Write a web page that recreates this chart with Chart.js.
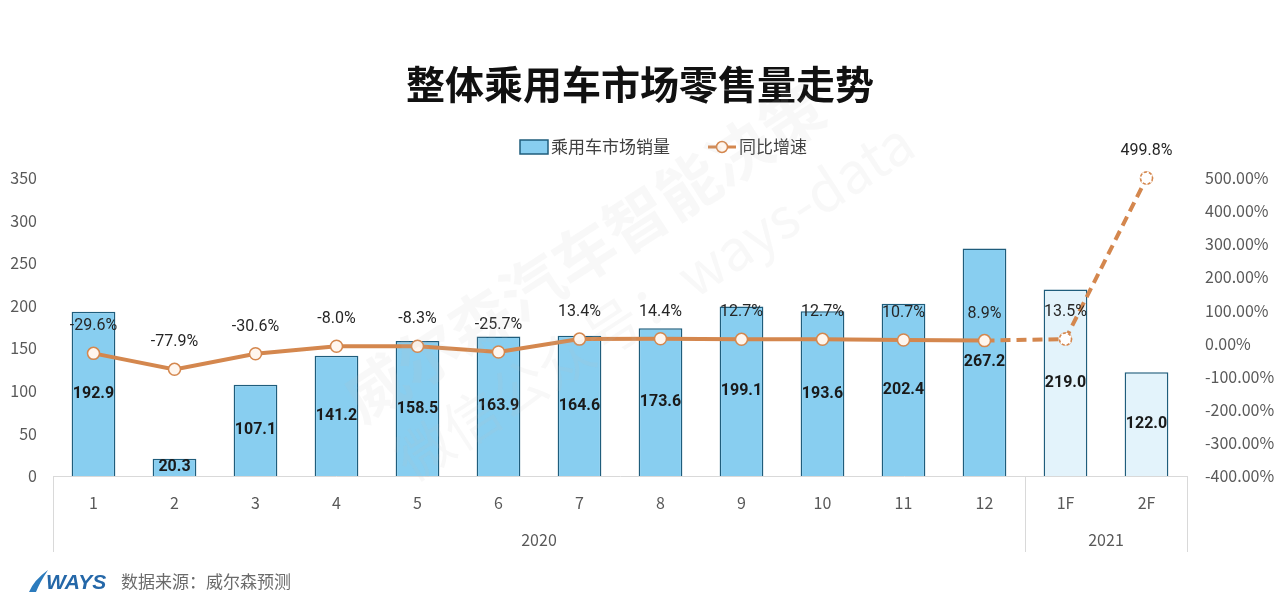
<!DOCTYPE html>
<html>
<head>
<meta charset="utf-8">
<script src="https://cdn.jsdelivr.net/npm/chart.js@4"></script>
<style>
  html, body { margin: 0; padding: 0; background: #fff; }
  #wrap { width: 1280px; height: 608px; position: relative; }
</style>
</head>
<body>
<div id="wrap"><canvas id="myChart" width="1280" height="608"></canvas></div>
<script>
// categories and values
const months = ['1', '2', '3', '4', '5', '6', '7', '8', '9', '10', '11', '12', '1F', '2F'];
const years = ['2020', '2021'];
const monthsPerYear = [12, 2];
const sales = [192.9, 20.3, 107.1, 141.2, 158.5, 163.9, 164.6, 173.6, 199.1, 193.6, 202.4, 267.2, 219.0, 122.0];
const growth = [-29.6, -77.9, -30.6, -8.0, -8.3, -25.7, 13.4, 14.4, 12.7, 12.7, 10.7, 8.9, 13.5, 499.8];
const forecastFrom = 12; // index of first forecast month (1F)

const ORANGE = '#d4874e';
const BAR_BLUE = '#88cef0';
const BAR_PALE = '#e3f3fb';
const BAR_EDGE = '#1f5d7c';
const AXIS_GRAY = '#d9d9d9';
const TEXT_GRAY = '#595959';
const FONT = '"Noto Sans CJK SC", "Noto Sans", sans-serif';

const isForecast = (i) => i >= forecastFrom;

// value labels, watermark, year groups, legend, footer
const decorations = {
  id: 'decorations',
  afterDatasetsDraw(chart) {
    const ctx = chart.ctx;
    const pts = chart.getDatasetMeta(0).data;
    const bars = chart.getDatasetMeta(1).data;
    ctx.save();
    // dashed rings on forecast markers
    pts.forEach((p, i) => {
      if (!isForecast(i)) return;
      ctx.fillStyle = '#ffffff';
      ctx.beginPath();
      ctx.arc(p.x, p.y, 6.5, 0, Math.PI * 2);
      ctx.fill();
      ctx.strokeStyle = ORANGE;
      ctx.lineWidth = 1.5;
      ctx.setLineDash([3, 2]);
      ctx.beginPath();
      ctx.arc(p.x, p.y, 6, 0, Math.PI * 2);
      ctx.stroke();
      ctx.setLineDash([]);
    });
    ctx.textAlign = 'center';
    ctx.textBaseline = 'middle';
    ctx.fillStyle = '#1a1a1a';
    ctx.font = 'bold 16px Roboto, sans-serif';
    bars.forEach((b, i) => {
      ctx.fillText(sales[i].toFixed(1), b.x, (b.y + b.base) / 2);
    });
    ctx.fillStyle = '#262626';
    ctx.font = '16px Roboto, sans-serif';
    pts.forEach((p, i) => {
      ctx.fillText(growth[i].toFixed(1) + '%', p.x, p.y - 27);
    });
    ctx.restore();
  },
  afterDraw(chart) {
    const ctx = chart.ctx;
    const xs = chart.scales.x;
    const area = chart.chartArea;
    ctx.save();

    // year group separators + labels
    const step = xs.width / months.length;
    ctx.strokeStyle = AXIS_GRAY;
    ctx.lineWidth = 1;
    let start = 0;
    const edges = [0];
    monthsPerYear.forEach(n => { start += n; edges.push(start); });
    edges.forEach(e => {
      const x = Math.round(xs.left + e * step) + 0.5;
      ctx.beginPath();
      ctx.moveTo(x, area.bottom);
      ctx.lineTo(x, area.bottom + 76);
      ctx.stroke();
    });
    ctx.fillStyle = TEXT_GRAY;
    ctx.font = '16px ' + FONT;
    ctx.textAlign = 'center';
    ctx.textBaseline = 'middle';
    years.forEach((y, k) => {
      const cx = xs.left + (edges[k] + edges[k + 1]) / 2 * step;
      ctx.fillText(y, cx, area.bottom + 64);
    });

    // legend
    const ly = 147;
    ctx.fillStyle = BAR_BLUE;
    ctx.strokeStyle = BAR_EDGE;
    ctx.lineWidth = 1.5;
    ctx.fillRect(520, ly - 7, 28, 14);
    ctx.strokeRect(520, ly - 7, 28, 14);
    ctx.fillStyle = '#404040';
    ctx.font = '17px ' + FONT;
    ctx.textAlign = 'left';
    ctx.fillText('乘用车市场销量', 551, ly);
    ctx.strokeStyle = ORANGE;
    ctx.lineWidth = 3;
    ctx.beginPath();
    ctx.moveTo(708, ly);
    ctx.lineTo(736, ly);
    ctx.stroke();
    ctx.fillStyle = '#fff6ee';
    ctx.lineWidth = 1.5;
    ctx.beginPath();
    ctx.arc(722, ly, 5.5, 0, Math.PI * 2);
    ctx.fill();
    ctx.stroke();
    ctx.fillStyle = '#404040';
    ctx.fillText('同比增速', 739, ly);

    // footer
    ctx.fillStyle = '#2b7bbd';
    ctx.beginPath();
    ctx.moveTo(29, 592);
    ctx.quadraticCurveTo(34, 580, 48, 570);
    ctx.quadraticCurveTo(40, 582, 36, 592);
    ctx.closePath();
    ctx.fill();
    ctx.fillStyle = '#2467a8';
    ctx.font = 'italic bold 21px "Liberation Sans", sans-serif';
    ctx.textAlign = 'left';
    ctx.fillText('WAYS', 46, 583);
    ctx.fillStyle = '#6b6b6b';
    ctx.font = '17px ' + FONT;
    ctx.fillText('数据来源：威尔森预测', 121, 582);

    // faint watermark
    ctx.fillStyle = 'rgba(190, 190, 190, 0.11)';
    ctx.translate(350, 405);
    ctx.rotate(-33 * Math.PI / 180);
    ctx.font = 'bold 62px ' + FONT;
    ctx.fillText('威尔森汽车智能决策', 0, 0);
    ctx.font = '56px ' + FONT;
    ctx.fillText('微信公众号：ways-data', 10, 78);
    ctx.restore();
  }
};

const ctx = document.getElementById('myChart');
const myChart = new Chart(ctx, {
  data: {
    labels: months,
    datasets: [
      {
        type: 'line',
        label: '同比增速',
        data: growth,
        yAxisID: 'y2',
        order: 0,
        clip: false,
        borderColor: ORANGE,
        borderWidth: 4,
        tension: 0,
        pointRadius: 6,
        pointBorderWidth: 1.5,
        pointBackgroundColor: '#fff6ee',
        pointBorderColor: ORANGE,
        segment: {
          borderDash: c => isForecast(c.p1DataIndex) ? [10, 6] : undefined
        }
      },
      {
        type: 'bar',
        label: '乘用车市场销量',
        data: sales,
        yAxisID: 'y',
        order: 1,
        backgroundColor: sales.map((v, i) => isForecast(i) ? BAR_PALE : BAR_BLUE),
        borderColor: BAR_EDGE,
        borderWidth: 1.5,
        categoryPercentage: 1,
        barPercentage: 0.54
      }
    ]
  },
  options: {
    responsive: false,
    animation: false,
    layout: { padding: { top: 0, bottom: 56, left: 0, right: 0 } },
    plugins: {
      legend: { display: false },
      tooltip: { enabled: false },
      title: {
        display: true,
        text: '整体乘用车市场零售量走势',
        color: '#111',
        font: { family: FONT, size: 39, weight: 'bold', lineHeight: 1.2 },
        padding: { top: 61, bottom: 70.2 }
      }
    },
    scales: {
      x: {
        grid: { display: false, drawTicks: false },
        border: { display: true, color: AXIS_GRAY, width: 1 },
        ticks: { color: TEXT_GRAY, font: { family: FONT, size: 16 }, padding: 17, maxRotation: 0 },
        afterFit: s => { s.height = 76; }
      },
      y: {
        position: 'left',
        min: 0,
        max: 350,
        grid: { display: false, drawTicks: false },
        border: { display: false },
        ticks: { stepSize: 50, color: TEXT_GRAY, font: { family: FONT, size: 16 }, padding: 16 },
        afterFit: s => { s.width = 53; }
      },
      y2: {
        position: 'right',
        min: -400,
        max: 500,
        grid: { display: false, drawTicks: false },
        border: { display: false },
        ticks: {
          stepSize: 100,
          color: TEXT_GRAY,
          font: { family: FONT, size: 16 },
          padding: 18,
          callback: v => v.toFixed(2) + '%'
        },
        afterFit: s => { s.width = 93; }
      }
    }
  },
  plugins: [decorations]
});
</script>
</body>
</html>
